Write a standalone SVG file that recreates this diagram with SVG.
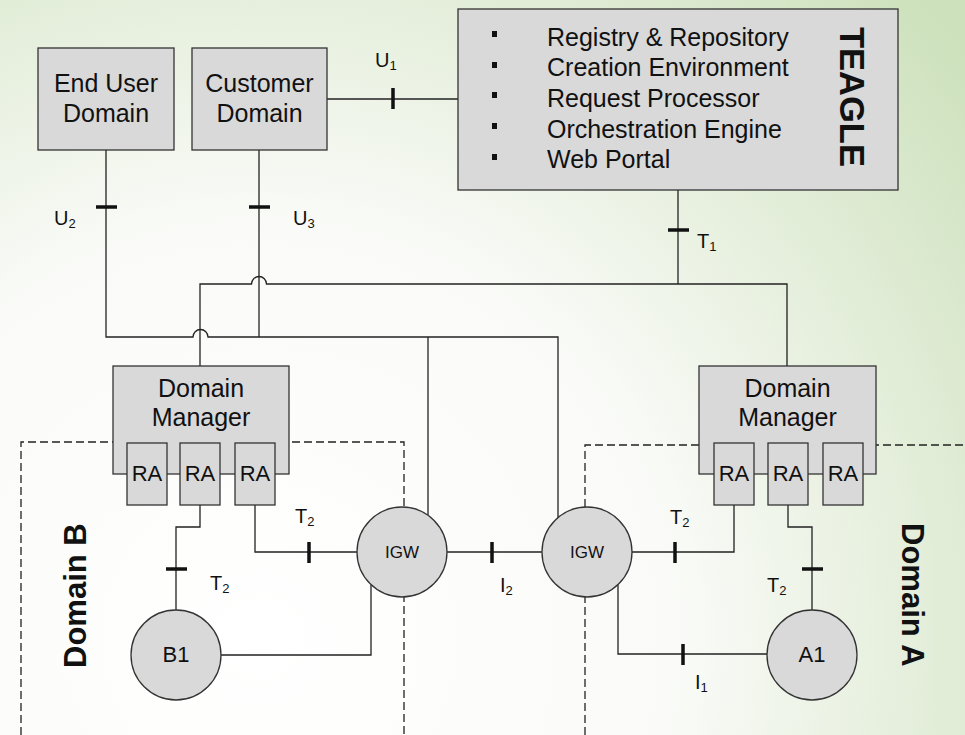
<svg xmlns="http://www.w3.org/2000/svg" width="965" height="735" viewBox="0 0 965 735">
<defs>
<radialGradient id="bg" gradientUnits="userSpaceOnUse" cx="260" cy="640" r="920">
<stop offset="0" stop-color="#ffffff"/>
<stop offset="0.45" stop-color="#fafbf8"/>
<stop offset="1" stop-color="#cde1bc"/>
</radialGradient>
<style>
.box{fill:#d9d9d9;stroke:#333;stroke-width:1.3}
.ln{fill:none;stroke:#222;stroke-width:1.3}
.tick{stroke:#111;stroke-width:3.5}
.dash{fill:none;stroke:#222;stroke-width:1.3;stroke-dasharray:8 4}
.t{font-family:"Liberation Sans",Arial,sans-serif;fill:#111}
.big{font-size:25px}
.c{text-anchor:middle}
.lbl{font-size:20px}
.sub{font-size:13px}
.bold{font-weight:bold}
</style>
</defs>
<rect x="0" y="0" width="965" height="735" fill="url(#bg)"/>

<g id="domain-boundaries">
<path class="dash" d="M21,735 V442 H404 V735"/>
<path class="dash" d="M585,735 V445 H965"/>
</g>

<g id="connectors">
<path class="ln" d="M327,99 H458"/>
<path class="ln" d="M106,150 V337 H193 A7.5,7.5 0 0 1 208,337 H558 V518"/>
<path class="ln" d="M259,150 V337"/>
<path class="ln" d="M428,337 V515"/>
<path class="ln" d="M678,190 V284"/>
<path class="ln" d="M200,366 V284 H251.5 A7.5,7.5 0 0 1 266.5,284 H787 V366"/>
<path class="ln" d="M200,505 V527 H176 V610"/>
<path class="ln" d="M255,505 V552 H357"/>
<path class="ln" d="M221,655 H371 V585"/>
<path class="ln" d="M447,552 H542"/>
<path class="ln" d="M632,552 H734 V505"/>
<path class="ln" d="M788,505 V527 H812 V610"/>
<path class="ln" d="M618,585 V654 H767"/>
<line class="tick" x1="393" y1="88" x2="393" y2="109"/>
<line class="tick" x1="96" y1="207" x2="117" y2="207"/>
<line class="tick" x1="249" y1="207" x2="270" y2="207"/>
<line class="tick" x1="668" y1="230" x2="689" y2="230"/>
<line class="tick" x1="166" y1="569" x2="187" y2="569"/>
<line class="tick" x1="309" y1="542" x2="309" y2="563"/>
<line class="tick" x1="492" y1="542" x2="492" y2="563"/>
<line class="tick" x1="675" y1="542" x2="675" y2="563"/>
<line class="tick" x1="802" y1="569" x2="823" y2="569"/>
<line class="tick" x1="683" y1="644" x2="683" y2="665"/>
<text class="t lbl" x="375" y="67">U<tspan class="sub" dy="3">1</tspan></text>
<text class="t lbl" x="54" y="225">U<tspan class="sub" dy="3">2</tspan></text>
<text class="t lbl" x="293" y="225">U<tspan class="sub" dy="3">3</tspan></text>
<text class="t lbl" x="697" y="248">T<tspan class="sub" dy="3">1</tspan></text>
<text class="t lbl" x="295" y="523">T<tspan class="sub" dy="3">2</tspan></text>
<text class="t lbl" x="210" y="590">T<tspan class="sub" dy="3">2</tspan></text>
<text class="t lbl" x="500" y="592">I<tspan class="sub" dy="3">2</tspan></text>
<text class="t lbl" x="670" y="524">T<tspan class="sub" dy="3">2</tspan></text>
<text class="t lbl" x="767" y="592">T<tspan class="sub" dy="3">2</tspan></text>
<text class="t lbl" x="695" y="689">I<tspan class="sub" dy="3">1</tspan></text>
</g>

<g id="end-user-domain">
<rect class="box" x="38" y="48" width="136" height="102"/>
<text class="t big c" x="106" y="92">End User</text>
<text class="t big c" x="106" y="122">Domain</text>
</g>

<g id="customer-domain">
<rect class="box" x="192" y="48" width="135" height="102"/>
<text class="t big c" x="259.5" y="92">Customer</text>
<text class="t big c" x="259.5" y="122">Domain</text>
</g>

<g id="teagle">
<rect class="box" x="458" y="9" width="440" height="181"/>
<rect x="492" y="31" width="5" height="6" fill="#111"/>
<rect x="492" y="62" width="5" height="6" fill="#111"/>
<rect x="492" y="92" width="5" height="6" fill="#111"/>
<rect x="492" y="123" width="5" height="6" fill="#111"/>
<rect x="492" y="154" width="5" height="6" fill="#111"/>
<text class="t big" x="547" y="45.5">Registry &amp; Repository</text>
<text class="t big" x="547" y="76">Creation Environment</text>
<text class="t big" x="547" y="107">Request Processor</text>
<text class="t big" x="547" y="137.5">Orchestration Engine</text>
<text class="t big" x="547" y="168">Web Portal</text>
<text class="t bold" font-size="34.5" transform="translate(840,27) rotate(90)">TEAGLE</text>
</g>

<g id="domain-manager-b">
<rect class="box" x="113" y="366" width="176" height="108"/>
<text class="t big c" x="201" y="397">Domain</text>
<text class="t big c" x="201" y="426">Manager</text>
<rect class="box" x="127" y="443" width="40" height="62"/>
<rect class="box" x="180" y="443" width="40" height="62"/>
<rect class="box" x="235" y="443" width="40" height="62"/>
<text class="t c" font-size="22" x="147" y="481">RA</text>
<text class="t c" font-size="22" x="200" y="481">RA</text>
<text class="t c" font-size="22" x="255" y="481">RA</text>
</g>

<g id="domain-manager-a">
<rect class="box" x="699" y="366" width="177" height="108"/>
<text class="t big c" x="787.5" y="397">Domain</text>
<text class="t big c" x="787.5" y="426">Manager</text>
<rect class="box" x="714" y="443" width="40" height="62"/>
<rect class="box" x="768" y="443" width="40" height="62"/>
<rect class="box" x="823" y="443" width="40" height="62"/>
<text class="t c" font-size="22" x="734" y="481">RA</text>
<text class="t c" font-size="22" x="788" y="481">RA</text>
<text class="t c" font-size="22" x="843" y="481">RA</text>
</g>

<g id="igw-b">
<circle class="box" cx="402" cy="552" r="45"/>
<text class="t c" font-size="17" x="402" y="558">IGW</text>
</g>

<g id="igw-a">
<circle class="box" cx="587" cy="552" r="45"/>
<text class="t c" font-size="17" x="587" y="558">IGW</text>
</g>

<g id="b1">
<circle class="box" cx="176" cy="655" r="45"/>
<text class="t c" font-size="22" x="176" y="662">B1</text>
</g>

<g id="a1">
<circle class="box" cx="812" cy="655" r="45"/>
<text class="t c" font-size="22" x="812" y="662">A1</text>
</g>

<g id="domain-labels">
<text class="t bold" font-size="31" transform="translate(86,668) rotate(-90)">Domain B</text>
<text class="t bold" font-size="31" transform="translate(902,523) rotate(90)">Domain A</text>
</g>
</svg>
